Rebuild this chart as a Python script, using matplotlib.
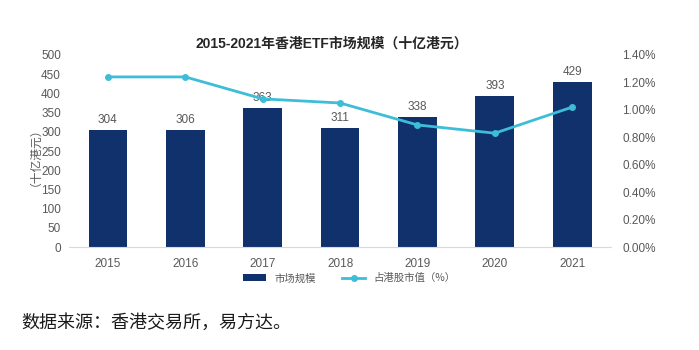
import matplotlib.pyplot as plt
from matplotlib.ticker import FuncFormatter

plt.rcParams['font.family'] = ['Liberation Sans', 'Noto Sans CJK SC', 'DejaVu Sans']

years = ['2015', '2016', '2017', '2018', '2019', '2020', '2021']
market_size = [304, 306, 363, 311, 338, 393, 429]
share_pct = [1.24, 1.24, 1.08, 1.05, 0.89, 0.83, 1.02]

bar_color = '#10316b'
line_color = '#3dbdd8'
tick_color = '#595959'

fig = plt.figure(figsize=(6.99, 3.5), dpi=100)
ax = fig.add_axes([0.099, 0.294, 0.775, 0.549])
ax2 = ax.twinx()

x = range(len(years))
bars = ax.bar(x, market_size, width=0.5, color=bar_color, label='市场规模', zorder=2)
for xi, v in zip(x, market_size):
    ax.text(xi, v + 10, str(v), ha='center', va='bottom', fontsize=8.5, color=tick_color)

line, = ax2.plot(x, share_pct, color=line_color, lw=2, marker='o', ms=4,
                 label='占港股市值（%）', zorder=3)

ax.set_xlim(-0.5, len(years) - 0.5)
ax.set_ylim(0, 500)
ax.set_yticks(range(0, 501, 50))
ax2.set_ylim(0, 1.4)
ax2.set_yticks([i * 0.2 for i in range(8)])
ax2.yaxis.set_major_formatter(FuncFormatter(lambda v, p: f'{v:.2f}%'))
ax.set_xticks(list(x))
ax.set_xticklabels(years)

for a in (ax, ax2):
    for s in a.spines.values():
        s.set_visible(False)
    a.tick_params(length=0, labelsize=8.5, colors=tick_color)
ax.spines['bottom'].set_visible(True)
ax.spines['bottom'].set_color('#d9d9d9')
ax.tick_params(axis='x', pad=8)
ax.tick_params(axis='y', pad=6)
ax2.tick_params(axis='y', pad=8)

ax.set_ylabel('（十亿港元）', fontsize=8.5, color=tick_color, labelpad=4,
              family=['Noto Sans CJK SC'])

fig.text(0.475, 0.875, '2015-2021年香港ETF市场规模（十亿港元）', ha='center', va='center',
         fontsize=10, fontweight='bold', color='#262626')

fig.legend([bars, line], ['市场规模', '占港股市值（%）'], loc='center', ncol=2,
           bbox_to_anchor=(0.5, 0.205), frameon=False,
           labelcolor=tick_color, handlelength=2.2, columnspacing=2.5,
           prop={'family': ['Noto Sans CJK SC'], 'size': 7.5})

fig.text(0.03, 0.078, '数据来源：香港交易所，易方达。', ha='left', va='center',
         fontsize=13, color='#1a1a1a', family=['Noto Sans CJK SC'])

fig.savefig('out.png', dpi=100)
